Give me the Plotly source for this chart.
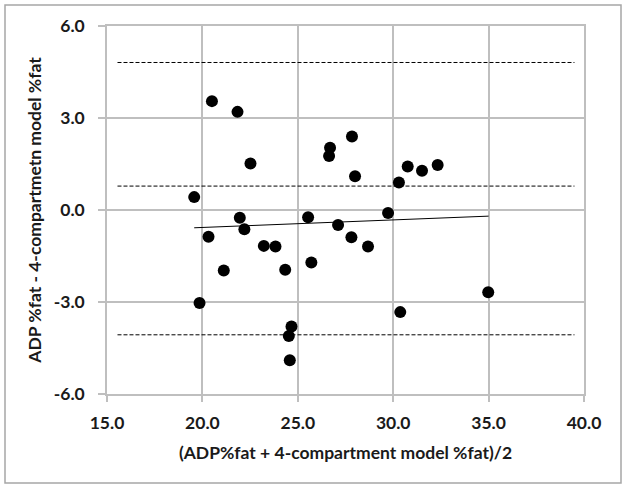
import plotly.graph_objects as go

mean_x = [20.50, 21.84, 22.52, 27.84, 26.69, 26.64, 28.00, 30.76, 31.51, 32.33,
          30.30, 19.57, 21.96, 25.54, 29.73, 20.32, 22.20, 23.22, 23.83, 27.11,
          27.81, 28.68, 25.71, 21.12, 24.34, 19.85, 34.98, 30.37, 24.67, 24.53, 24.58]
diff_y = [3.55, 3.20, 1.52, 2.40, 2.03, 1.76, 1.10, 1.42, 1.28, 1.47,
          0.90, 0.42, -0.25, -0.24, -0.10, -0.87, -0.63, -1.17, -1.19, -0.49,
          -0.89, -1.19, -1.71, -1.97, -1.95, -3.03, -2.68, -3.33, -3.80, -4.11, -4.90]

reg_x = [19.57, 35.0]
reg_y = [-0.58, -0.20]

limit_x = [15.55, 39.5]
upper_loa = 4.81
mean_bias = 0.78
lower_loa = -4.07

x_ticks = [15, 20, 25, 30, 35, 40]
y_ticks = [-6, -3, 0, 3, 6]

fig = go.Figure()
for yv in [upper_loa, mean_bias, lower_loa]:
    fig.add_trace(go.Scatter(x=limit_x, y=[yv, yv], mode="lines",
                             line=dict(color="black", width=1, dash="4px,2px"),
                             showlegend=False, hoverinfo="skip"))
fig.add_trace(go.Scatter(x=reg_x, y=reg_y, mode="lines",
                         line=dict(color="black", width=1), showlegend=False))
fig.add_trace(go.Scatter(x=mean_x, y=diff_y, mode="markers",
                         marker=dict(color="black", size=12), showlegend=False))

fam = "Lato, 'Open Sans', sans-serif"
txt = "#1a1a1a"
fsize = 17.5
grid = "#BFBFBF"
fig.update_layout(
    width=626, height=488,
    margin=dict(l=107, r=42, t=26, b=94),
    paper_bgcolor="white", plot_bgcolor="white",
    font=dict(family=fam, size=fsize, color=txt),
    xaxis=dict(range=[15, 40], tickvals=x_ticks,
               ticktext=[f"<b>{v:.1f}</b>" for v in x_ticks],
               showgrid=True, gridcolor=grid, gridwidth=1.5,
               showline=True, linecolor=grid, linewidth=1.5, mirror=True,
               ticks="outside", ticklen=6, tickcolor=grid, tickwidth=1.5,
               ticklabelstandoff=6,
               zeroline=False,
               tickfont=dict(family=fam, size=fsize, color=txt),
               title=dict(text="<b>(ADP%fat + 4-compartment model %fat)/2</b>", standoff=15,
                          font=dict(family=fam, size=fsize, color=txt))),
    yaxis=dict(range=[-6, 6], tickvals=y_ticks,
               ticktext=[f"<b>{v:.1f}</b>" for v in y_ticks],
               showgrid=True, gridcolor=grid, gridwidth=1.5,
               showline=True, linecolor=grid, linewidth=1.5, mirror=True,
               ticks="outside", ticklen=7, tickcolor=grid, tickwidth=1.5,
               ticklabelstandoff=10,
               zeroline=False,
               tickfont=dict(family=fam, size=fsize, color=txt),
               title=dict(text="<b>ADP %fat - 4-compartmetn model %fat</b>", standoff=8,
                          font=dict(family=fam, size=fsize, color=txt))),
    shapes=[dict(type="rect", xref="paper", yref="paper",
                 x0=(5 - 107) / 477, x1=(621 - 107) / 477,
                 y0=(394 - 483) / 368, y1=1 + (26 - 5) / 368,
                 line=dict(color="#A6A6A6", width=1.5))],
)

fig.write_html("out.html", config={"displayModeBar": False},
               post_script="document.body.style.margin='0px';")
